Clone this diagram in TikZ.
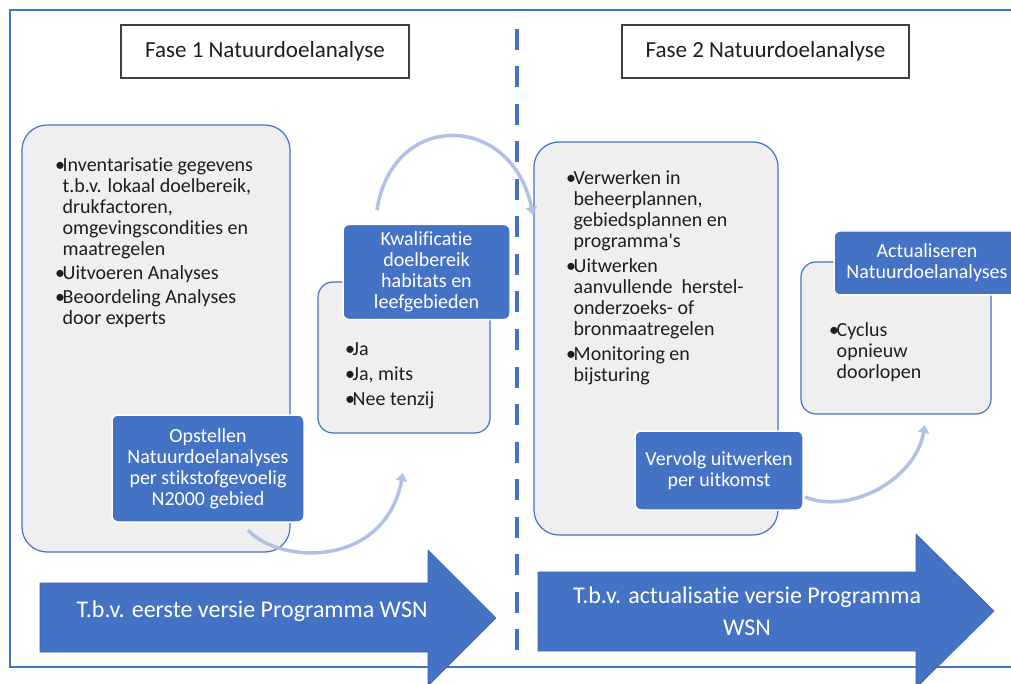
\documentclass[tikz,border=0pt]{standalone}
\usepackage{fontspec}
\setmainfont{Carlito}[Ligatures=NoCommon]
\usetikzlibrary{arrows.meta}
\definecolor{nblue}{HTML}{4472C4}
\definecolor{ngrey}{HTML}{EFEFEF}
\definecolor{nlight}{HTML}{B1C1E3}
\definecolor{ntext}{HTML}{1E1E1E}
\newcommand\boxfont{\fontsize{20}{21}\selectfont}
\newcommand\bul{\makebox[7.5pt][l]{\textbullet}}

\begin{document}
\begin{tikzpicture}[x=1pt, y=-1pt,
	greybox/.style={draw=nblue, line width=1.2pt, fill=ngrey, rounded corners=#1, inner sep=0pt},
	bluebox/.style={draw=white, line width=1.5pt, fill=nblue, rounded corners=6pt, inner sep=0pt, text=white, align=center, font=\boxfont},
	fasebox/.style={draw=black!75, line width=1.3pt, fill=white, inner sep=0pt, text=ntext, font=\fontsize{23}{26}\selectfont},
	boxtext/.style={inner sep=0pt, text=ntext, font=\boxfont},
	looparrow/.style={draw=nlight, line width=3.5pt, -{Triangle[width=11pt,length=8pt]}},
	bigarrow/.style={fill=nblue, draw=nblue!85!black, line width=0.6pt},
	arrowtext/.style={inner sep=0pt, text=white, align=center, font=\fontsize{24}{32}\selectfont}]
	%%%%% START %%%%%
	
	\useasboundingbox (0,0) rectangle (1011,684);
	
	\draw[line width=2.5pt, color=nblue] (1030,10) -- (10,10) -- (10,667) -- (1030,667);
	\draw[line width=4pt, color=nblue, dash pattern=on 21pt off 16.5pt] (517,29) -- (517,655);
	
	\node[fasebox, minimum width=288pt, minimum height=53pt] (fase1) at (265,51.5) {Fase 1 Natuurdoelanalyse};
	\node[fasebox, minimum width=287pt, minimum height=53pt] (fase2) at (765.5,51.5) {Fase 2 Natuurdoelanalyse};
	
	% fase 1
	\node[greybox=25pt, minimum width=268pt, minimum height=427pt] (inventaris) at (156,338.5) {};
	\node[boxtext, anchor=base west] (inventaristxt) at (55,172) {\begin{tabular}[t]{@{}l@{}l@{}}
		\bul & Inventarisatie gegevens\\
		& t.b.v. lokaal doelbereik,\\
		& drukfactoren,\\
		& omgevingscondities en\\
		& maatregelen\\[3pt]
		\bul & Uitvoeren Analyses\\[3pt]
		\bul & Beoordeling Analyses\\
		& door experts
	\end{tabular}};
	\node[bluebox, minimum width=192pt, minimum height=107pt] (opstellen) at (208,468.5) {Opstellen\\Natuurdoelanalyses\\per stikstofgevoelig\\N2000 gebied};
	
	\node[greybox=15pt, minimum width=172pt, minimum height=151pt] (uitkomst) at (404,357.5) {};
	\node[boxtext, anchor=base west] (uitkomsttxt) at (345,355) {\begin{tabular}[t]{@{}l@{}l@{}}
		\bul & Ja\\[4pt]
		\bul & Ja, mits\\[4pt]
		\bul & Nee tenzij
	\end{tabular}};
	\node[bluebox, minimum width=167pt, minimum height=95pt] (kwalificatie) at (426.5,272) {Kwalificatie\\doelbereik\\habitats en\\leefgebieden};
	
	% fase 2
	\node[greybox=25pt, minimum width=244pt, minimum height=393pt] (verwerken) at (656,338.5) {};
	\node[boxtext, anchor=base west] (verwerkentxt) at (566,185) {\begin{tabular}[t]{@{}l@{}l@{}}
		\bul & Verwerken in\\
		& beheerplannen,\\
		& gebiedsplannen en\\
		& programma\textquotesingle s\\[4pt]
		\bul & Uitwerken\\
		& aanvullende~ herstel-\\
		& onderzoeks- of\\
		& bronmaatregelen\\[4pt]
		\bul & Monitoring en\\
		& bijsturing
	\end{tabular}};
	\node[bluebox, minimum width=168pt, minimum height=79pt] (vervolg) at (719,470.5) {Vervolg uitwerken\\per uitkomst};
	
	\node[greybox=15pt, minimum width=190pt, minimum height=152pt] (cyclus) at (896,338) {};
	\node[boxtext, anchor=base west] (cyclustxt) at (829,336) {\begin{tabular}[t]{@{}l@{}l@{}}
		\bul & Cyclus\\
		& opnieuw\\
		& doorlopen
	\end{tabular}};
	\node[bluebox, minimum width=186pt, minimum height=64pt] (actualiseren) at (927,263) {Actualiseren\\Natuurdoelanalyses};
	
	% kringloop pijlen
	\coordinate (opstellenuit) at (248,530);
	\coordinate (uitkomstin) at (403,473);
	\coordinate (kwaluit) at (377,210);
	\coordinate (verwerkenin) at (533,215);
	\coordinate (vervolguit) at (805,497);
	\coordinate (cyclusin) at (925,425);
	\draw[looparrow] (opstellenuit) .. controls (280,565) and (385,568) .. (uitkomstin);
	\draw[looparrow] (kwaluit) .. controls (392,110) and (512,112) .. (verwerkenin);
	\draw[looparrow] (vervolguit) .. controls (850,515) and (915,480) .. (cyclusin);
	
	% grote pijlen
	\draw[bigarrow] (40,583) -- (428,583) -- (428,550) -- (496,618) -- (428,686) -- (428,652) -- (40,652) -- cycle;
	\node[arrowtext, anchor=base] (eersteversie) at (252,617) {T.b.v. eerste versie Programma WSN};
	\draw[bigarrow] (538,572) -- (916,572) -- (916,534) -- (994,611) -- (916,688) -- (916,651) -- (538,651) -- cycle;
	\node[arrowtext, anchor=base] (actualisatie) at (747,635) {T.b.v. actualisatie versie Programma\\WSN};
	
	%%%%% END %%%%%
\end{tikzpicture}
\end{document}
